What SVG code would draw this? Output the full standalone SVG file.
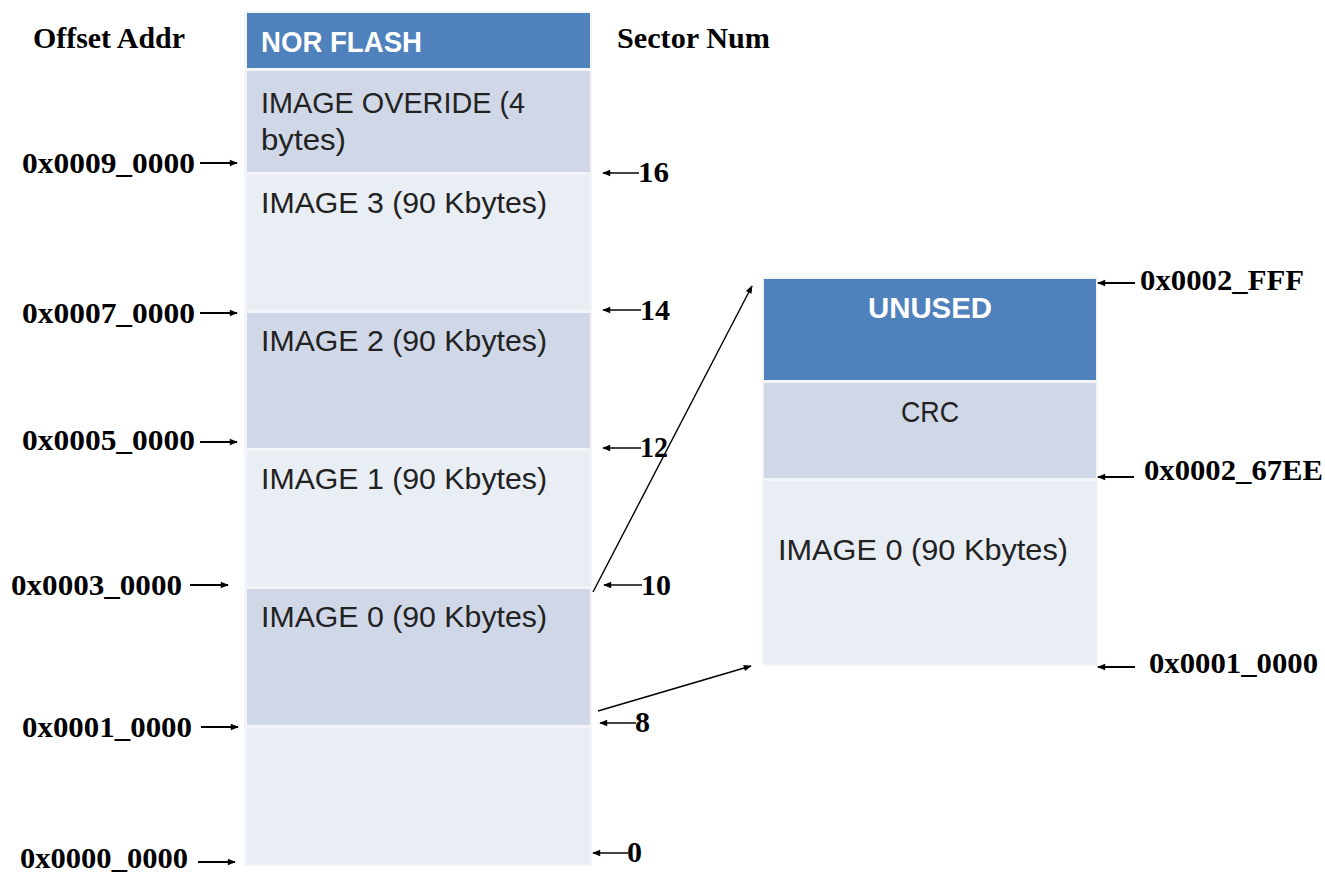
<svg xmlns="http://www.w3.org/2000/svg" width="1325" height="874" viewBox="0 0 1325 874">
<style>
.lbl{font-family:"Liberation Serif","Times New Roman",serif;font-weight:bold;font-size:29px;fill:#000}
.cell{font-family:"Liberation Sans",Arial,sans-serif;font-size:29px;fill:#222}
.hdr{font-family:"Liberation Sans",Arial,sans-serif;font-size:29px;font-weight:bold;fill:#fff}
.dark{fill:#D0D8E8}
.light{fill:#E9EDF4}
.blue{fill:#4F81BD}
.arr{stroke:#000;stroke-width:1.8;fill:none;marker-end:url(#ah)}
.sarr{stroke:#444;stroke-width:2.2;fill:none;marker-end:url(#ah)}
.conn{stroke:#000;stroke-width:1.4;fill:none;marker-end:url(#ah)}
</style>
<defs>
<marker id="ah" viewBox="0 0 10 10" refX="9" refY="5" markerWidth="10" markerHeight="8" markerUnits="userSpaceOnUse" orient="auto">
<path d="M0,1 L10,5 L0,9 z" fill="#000"/>
</marker>
</defs>
<rect width="1325" height="874" fill="#fff"/>

<text class="lbl" x="33" y="48" textLength="152" lengthAdjust="spacingAndGlyphs">Offset Addr</text>
<text class="lbl" x="617" y="48" textLength="153" lengthAdjust="spacingAndGlyphs">Sector Num</text>

<g id="nor-flash">
<rect x="244" y="11" width="348" height="855" fill="#F2F4F8"/>
<rect id="hdr" class="blue" x="247" y="13" width="343" height="55"/>
<text class="hdr" x="261" y="52" textLength="161" lengthAdjust="spacingAndGlyphs">NOR FLASH</text>
</g>
<g id="image-overide">
<rect class="dark" x="247" y="71" width="343" height="101"/>
<text class="cell" x="261" y="113" textLength="264" lengthAdjust="spacingAndGlyphs">IMAGE OVERIDE (4</text>
<text class="cell" x="261" y="150" textLength="85" lengthAdjust="spacingAndGlyphs">bytes)</text>
</g>
<g id="image3">
<rect class="light" x="247" y="175" width="343" height="135"/>
<text class="cell" x="261" y="213" textLength="286" lengthAdjust="spacingAndGlyphs">IMAGE 3 (90 Kbytes)</text>
</g>
<g id="image2">
<rect class="dark" x="247" y="313" width="343" height="135"/>
<text class="cell" x="261" y="351" textLength="286" lengthAdjust="spacingAndGlyphs">IMAGE 2 (90 Kbytes)</text>
</g>
<g id="image1">
<rect class="light" x="247" y="451" width="343" height="135"/>
<text class="cell" x="261" y="489" textLength="286" lengthAdjust="spacingAndGlyphs">IMAGE 1 (90 Kbytes)</text>
</g>
<g id="image0">
<rect class="dark" x="247" y="589" width="343" height="136"/>
<text class="cell" x="261" y="627" textLength="286" lengthAdjust="spacingAndGlyphs">IMAGE 0 (90 Kbytes)</text>
</g>
<g id="bottom">
<rect class="light" x="247" y="728" width="343" height="136"/>
</g>

<g id="detail">
<rect x="762" y="277" width="336" height="389" fill="#F2F4F8"/>
<rect class="blue" x="764" y="279" width="332" height="101"/>
<text class="hdr" x="930" y="318" text-anchor="middle" textLength="124" lengthAdjust="spacingAndGlyphs">UNUSED</text>
<rect class="dark" x="764" y="383" width="332" height="95"/>
<text class="cell" x="930" y="422" text-anchor="middle" textLength="58" lengthAdjust="spacingAndGlyphs">CRC</text>
<rect class="light" x="764" y="481" width="332" height="183"/>
<text class="cell" x="778" y="560" textLength="290" lengthAdjust="spacingAndGlyphs">IMAGE 0 (90 Kbytes)</text>
</g>

<g id="offset-labels">
<text class="lbl" x="22" y="173" textLength="173" lengthAdjust="spacingAndGlyphs">0x0009_0000</text>
<line class="arr" x1="200" y1="163" x2="237" y2="163"/>
<text class="lbl" x="22" y="323" textLength="173" lengthAdjust="spacingAndGlyphs">0x0007_0000</text>
<line class="arr" x1="200" y1="313" x2="237" y2="313"/>
<text class="lbl" x="22" y="450" textLength="173" lengthAdjust="spacingAndGlyphs">0x0005_0000</text>
<line class="arr" x1="200" y1="442" x2="237" y2="442"/>
<text class="lbl" x="11" y="595" textLength="171" lengthAdjust="spacingAndGlyphs">0x0003_0000</text>
<line class="arr" x1="190" y1="585" x2="228" y2="585"/>
<text class="lbl" x="22" y="737" textLength="170" lengthAdjust="spacingAndGlyphs">0x0001_0000</text>
<line class="arr" x1="201" y1="727" x2="238" y2="727"/>
<text class="lbl" x="20" y="868" textLength="168" lengthAdjust="spacingAndGlyphs">0x0000_0000</text>
<line class="arr" x1="198" y1="862" x2="235" y2="862"/>
</g>

<g id="sector-labels">
<line class="sarr" x1="639" y1="173" x2="603" y2="173"/>
<text class="lbl" x="638" y="182" textLength="31" lengthAdjust="spacingAndGlyphs">16</text>
<line class="sarr" x1="641" y1="310" x2="603" y2="310"/>
<text class="lbl" x="640" y="320" textLength="30" lengthAdjust="spacingAndGlyphs">14</text>
<line class="sarr" x1="641" y1="448" x2="603" y2="448"/>
<text class="lbl" x="640" y="457" textLength="28" lengthAdjust="spacingAndGlyphs">12</text>
<line class="sarr" x1="642" y1="585" x2="604" y2="585"/>
<text class="lbl" x="641" y="595" textLength="30" lengthAdjust="spacingAndGlyphs">10</text>
<line class="sarr" x1="636" y1="723" x2="600" y2="723"/>
<text class="lbl" x="635" y="732" textLength="15" lengthAdjust="spacingAndGlyphs">8</text>
<line class="sarr" x1="628" y1="853" x2="593" y2="853"/>
<text class="lbl" x="627" y="862" textLength="15" lengthAdjust="spacingAndGlyphs">0</text>
</g>

<g id="detail-labels">
<line class="arr" x1="1135" y1="283" x2="1098" y2="283"/>
<text class="lbl" x="1140" y="290" textLength="164" lengthAdjust="spacingAndGlyphs">0x0002_FFF</text>
<line class="arr" x1="1134" y1="477" x2="1098" y2="477"/>
<text class="lbl" x="1144" y="480" textLength="179" lengthAdjust="spacingAndGlyphs">0x0002_67EE</text>
<line class="arr" x1="1135" y1="667" x2="1098" y2="667"/>
<text class="lbl" x="1149" y="673" textLength="169" lengthAdjust="spacingAndGlyphs">0x0001_0000</text>
</g>

<g id="connectors">
<line class="conn" x1="593" y1="592" x2="752" y2="286"/>
<line class="conn" x1="598" y1="711" x2="751" y2="666"/>
</g>
</svg>
